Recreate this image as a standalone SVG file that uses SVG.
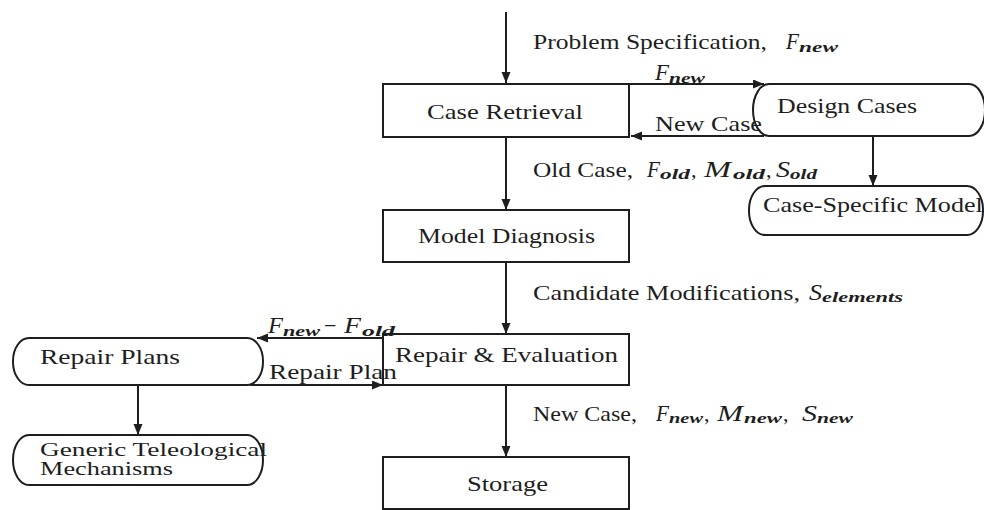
<svg xmlns="http://www.w3.org/2000/svg" width="984" height="510" viewBox="0 0 984 510">
<defs>
<marker id="ah" markerUnits="userSpaceOnUse" markerWidth="12" markerHeight="10" refX="11" refY="4.5" orient="auto">
<path d="M0,0 L11,4.5 L0,9 z" fill="#1e1e1e"/>
</marker>
<style>
.box{fill:#fff;stroke:#1e1e1e;stroke-width:2}
.cap{fill:#fff;stroke:#1e1e1e;stroke-width:2}
.t{font-family:"Liberation Serif","Times New Roman",serif;font-size:22px;fill:#1e1e1e}
.g{font-family:"Liberation Serif","Times New Roman",serif;font-size:19px;fill:#1e1e1e}
.m{font-family:"Liberation Serif","Times New Roman",serif;font-size:23px;font-style:italic;fill:#1e1e1e}
.s{font-family:"Liberation Serif","Times New Roman",serif;font-size:14px;font-style:italic;font-weight:bold;fill:#1e1e1e}
.c{fill:none;stroke:#1e1e1e;stroke-width:2}
</style>
</defs>
<rect width="984" height="510" fill="#fff"/>

<g id="connectors">
<line class="c" x1="506" y1="12" x2="506" y2="83" marker-end="url(#ah)"/>
<line class="c" x1="506" y1="137" x2="506" y2="210" marker-end="url(#ah)"/>
<line class="c" x1="506" y1="262" x2="506" y2="334" marker-end="url(#ah)"/>
<line class="c" x1="506" y1="385" x2="506" y2="457" marker-end="url(#ah)"/>
<line class="c" x1="629" y1="84" x2="764" y2="84" marker-end="url(#ah)"/>
<line class="c" x1="764" y1="136" x2="631" y2="136" marker-end="url(#ah)"/>
<line class="c" x1="873" y1="136" x2="873" y2="186" marker-end="url(#ah)"/>
<line class="c" x1="383" y1="338" x2="257" y2="338" marker-end="url(#ah)"/>
<line class="c" x1="250" y1="385" x2="383" y2="385" marker-end="url(#ah)"/>
<line class="c" x1="138" y1="385" x2="138" y2="435" marker-end="url(#ah)"/>
</g>

<g id="case-retrieval">
<rect class="box" x="383" y="84" width="246" height="53"/>
<text class="t" x="427" y="119" textLength="156" lengthAdjust="spacingAndGlyphs">Case Retrieval</text>
</g>
<g id="model-diagnosis">
<rect class="box" x="383" y="210" width="246" height="52"/>
<text class="t" x="418" y="243" textLength="177" lengthAdjust="spacingAndGlyphs">Model Diagnosis</text>
</g>
<g id="repair-evaluation">
<rect class="box" x="383" y="334" width="246" height="51"/>
<text class="t" x="395" y="362" textLength="223" lengthAdjust="spacingAndGlyphs">Repair &amp; Evaluation</text>
</g>
<g id="storage">
<rect class="box" x="383" y="457" width="246" height="52"/>
<text class="t" x="467" y="491" textLength="81" lengthAdjust="spacingAndGlyphs">Storage</text>
</g>
<g id="design-cases">
<rect class="cap" x="753" y="84" width="232" height="52" rx="16" ry="26"/>
<text class="t" x="777" y="113" textLength="140" lengthAdjust="spacingAndGlyphs">Design Cases</text>
</g>
<g id="case-specific-models">
<rect class="cap" x="749" y="186" width="234" height="49" rx="16" ry="24"/>
<text class="t" x="763" y="212" textLength="230" lengthAdjust="spacingAndGlyphs">Case-Specific Models</text>
</g>
<g id="repair-plans">
<rect class="cap" x="13" y="338" width="250" height="47" rx="16" ry="23"/>
<text class="t" x="40" y="364" textLength="140" lengthAdjust="spacingAndGlyphs">Repair Plans</text>
</g>
<g id="generic-teleological-mechanisms">
<rect class="cap" x="13" y="435" width="250" height="50" rx="16" ry="25"/>
<text class="g" x="40" y="456" textLength="227" lengthAdjust="spacingAndGlyphs">Generic Teleological</text>
<text class="g" x="40" y="475" textLength="133" lengthAdjust="spacingAndGlyphs">Mechanisms</text>
</g>

<g id="labels">
<text class="t" x="533" y="49" textLength="234" lengthAdjust="spacingAndGlyphs">Problem Specification,</text>
<text class="m" x="786" y="49" textLength="13" lengthAdjust="spacingAndGlyphs">F</text><text class="s" x="799" y="52" textLength="39" lengthAdjust="spacingAndGlyphs">new</text>

<text class="m" x="655" y="80" textLength="14" lengthAdjust="spacingAndGlyphs">F</text><text class="s" x="669" y="83" textLength="36" lengthAdjust="spacingAndGlyphs">new</text>
<text class="t" x="655" y="131" textLength="107" lengthAdjust="spacingAndGlyphs">New Case</text>

<text class="t" x="533" y="177" textLength="100" lengthAdjust="spacingAndGlyphs">Old Case,</text>
<text class="m" x="647" y="177" textLength="13" lengthAdjust="spacingAndGlyphs">F</text><text class="s" x="660" y="179" textLength="30" lengthAdjust="spacingAndGlyphs">old</text><text class="t" x="691" y="177">,</text>
<text class="m" x="704" y="177" textLength="27" lengthAdjust="spacingAndGlyphs">M</text><text class="s" x="733" y="179" textLength="32" lengthAdjust="spacingAndGlyphs">old</text><text class="t" x="766" y="177">,</text>
<text class="m" x="776" y="177" textLength="14" lengthAdjust="spacingAndGlyphs">S</text><text class="s" x="790" y="179" textLength="27" lengthAdjust="spacingAndGlyphs">old</text>

<text class="t" x="533" y="300" textLength="267" lengthAdjust="spacingAndGlyphs">Candidate Modifications,</text>
<text class="m" x="809" y="300" textLength="13" lengthAdjust="spacingAndGlyphs">S</text><text class="s" x="822" y="302" textLength="81" lengthAdjust="spacingAndGlyphs">elements</text>

<text class="m" x="268" y="333" textLength="15" lengthAdjust="spacingAndGlyphs">F</text><text class="s" x="283" y="336" textLength="37" lengthAdjust="spacingAndGlyphs">new</text>
<text class="t" x="324" y="333">−</text>
<text class="m" x="344" y="333" textLength="17" lengthAdjust="spacingAndGlyphs">F</text><text class="s" x="362" y="336" textLength="33" lengthAdjust="spacingAndGlyphs">old</text>
<text class="t" x="269" y="379" textLength="128" lengthAdjust="spacingAndGlyphs">Repair Plan</text>

<text class="t" x="533" y="421" textLength="104" lengthAdjust="spacingAndGlyphs">New Case,</text>
<text class="m" x="656" y="421" textLength="13" lengthAdjust="spacingAndGlyphs">F</text><text class="s" x="669" y="423" textLength="34" lengthAdjust="spacingAndGlyphs">new</text><text class="t" x="704" y="421">,</text>
<text class="m" x="717" y="421" textLength="26" lengthAdjust="spacingAndGlyphs">M</text><text class="s" x="744" y="423" textLength="38" lengthAdjust="spacingAndGlyphs">new</text><text class="t" x="783" y="421">,</text>
<text class="m" x="802" y="421" textLength="15" lengthAdjust="spacingAndGlyphs">S</text><text class="s" x="817" y="423" textLength="36" lengthAdjust="spacingAndGlyphs">new</text>
</g>
</svg>
